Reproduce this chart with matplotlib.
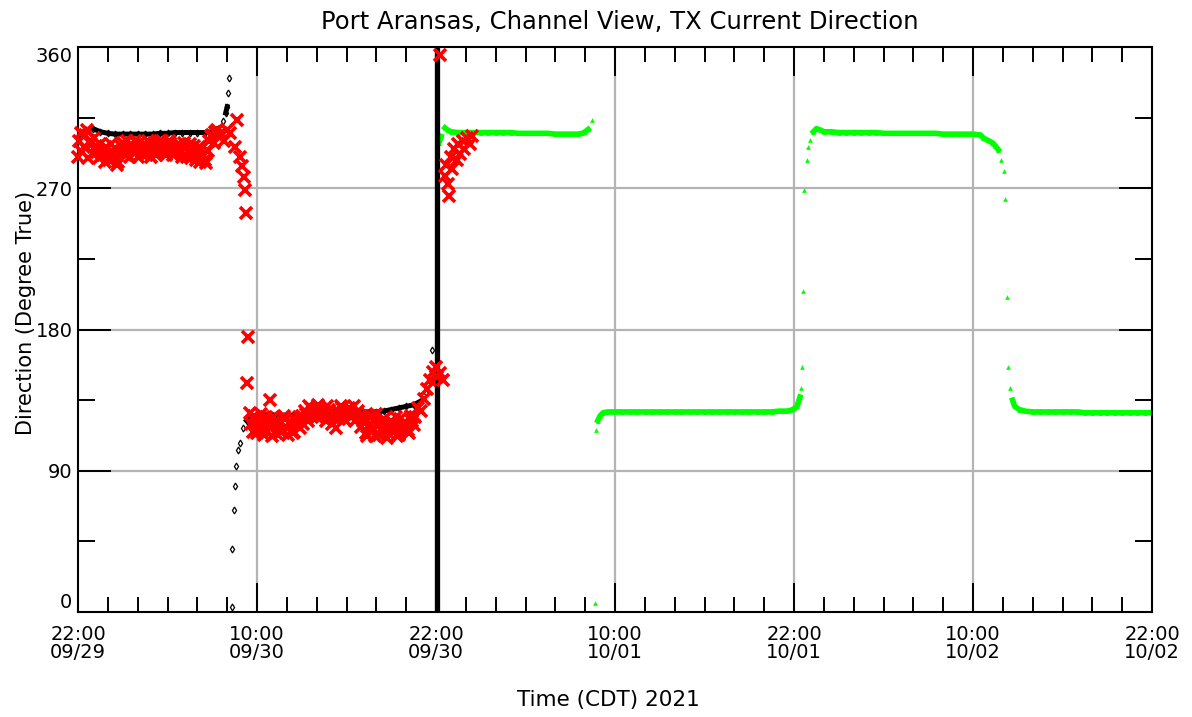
import matplotlib
matplotlib.use("Agg")
import matplotlib.pyplot as plt
import numpy as np
from matplotlib.ticker import FixedLocator, MultipleLocator


# hours after 22:00 09/29 (CDT), direction in degrees true
TICK_HOURS = [0, 12, 24, 36, 48, 60, 72]
TICK_LABELS = ["22:00\n09/29", "10:00\n09/30", "22:00\n09/30", "10:00\n10/01",
               "22:00\n10/01", "10:00\n10/02", "22:00\n10/02"]
Y_TICKS = [0, 90, 180, 270, 360]

# black series (observed, one bin)
BLACK_HOURS = [0.0, 0.5, 1.0, 1.5, 2.0, 2.5, 3.0, 3.5, 4.0, 4.5, 5.0, 5.5, 6.0, 6.5,
               7.0, 7.5, 8.0, 8.5, 9.0, 9.4, 9.7, 9.9, 10.0, 10.05, 10.1,
               10.3, 10.35, 10.45, 10.5, 10.6, 10.75, 10.85, 11.05, 11.3,
               11.5, 12.0, 12.5, 13.0, 13.5, 14.0, 14.5, 15.0, 15.5, 16.0, 16.5,
               17.0, 17.5, 18.0, 18.5, 19.0, 19.5, 20.0, 20.5, 21.0, 21.5, 22.0,
               22.5, 22.9, 23.3, 23.5, 23.7]
BLACK_DIR = [303, 307, 308, 306, 305, 304.5, 304.5, 304.5, 304.5, 304.5, 304.5, 305,
             305, 305.5, 305.5, 305.5, 305.5, 305.5, 306, 308, 313, 318, 322, 331, 340,
             3, 40, 65, 80, 93, 103, 108, 117, 122,
             124, 125, 125.5, 125.5, 125.5, 125.5, 125.5, 125.5, 126, 127.5, 127.5,
             127.5, 127.5, 127.5, 127.5, 127.5, 127.5, 127.5, 128, 129, 130, 131,
             132, 134, 139.5, 148, 167]
SPIKE_HOUR = 24.05
SPIKE_RANGE = (0, 360)

# red series (observed, second bin) - scattered crosses
RED_HOURS_A = [0.0, 0.2, 0.4, 0.6, 0.8, 1.0, 1.2, 1.4, 1.6, 1.8, 2.0, 2.2, 2.4, 2.6,
               2.8, 3.0, 3.2, 3.4, 3.6, 3.8, 4.0, 4.2, 4.4, 4.6, 4.8, 5.0, 5.2, 5.4,
               5.6, 5.8, 6.0, 6.2, 6.4, 6.6, 6.8, 7.0, 7.2, 7.4, 7.6, 7.8, 8.0, 8.2,
               8.4, 8.6, 8.8, 9.0, 9.2, 9.4, 9.6, 9.8, 10.0]
RED_DIR_A = [290, 305, 296, 307, 300, 292, 297, 289, 294, 287, 292, 298, 290, 285,
             293, 299, 291, 297, 294, 300, 290, 296, 298, 292, 299, 295, 291, 297,
             300, 293, 296, 299, 291, 295, 298, 290, 296, 294, 289, 297, 292, 287,
             291, 286, 300, 304, 306, 303, 305, 300, 307]
# second pass of samples between the ones above (0.1, 0.3, ... 9.3 h)
RED_DIR_A2 = [300, 293, 304, 289, 298, 302, 293, 298, 291, 296,
              288, 294, 290, 287, 297, 293, 300, 290, 297, 293,
              299, 292, 295, 300, 290, 298, 294, 300, 296, 291,
              300, 295, 292, 297, 294, 299, 290, 298, 293, 288,
              296, 290, 288, 294, 303, 299, 307]
RED_HOURS_B = [10.2, 10.5, 10.63, 10.85, 11.0, 11.1, 11.2, 11.25, 11.3, 11.4]
RED_DIR_B = [305, 296, 313.6, 290, 284, 277, 269, 254, 146, 175]
RED_HOURS_C = [11.5, 11.7, 11.9, 12.1, 12.3, 12.5, 12.7, 12.9, 13.1, 13.3, 13.5, 13.7,
               13.9, 14.1, 14.3, 14.5, 14.7, 14.9, 12.9,
               15.1, 15.3, 15.5, 15.7, 15.9, 16.1, 16.3, 16.5, 16.7, 16.9, 17.1, 17.3,
               17.5, 17.7, 17.9, 18.1, 18.3, 18.5, 18.7, 18.9,
               19.1, 19.3, 19.5, 19.7, 19.9, 20.1, 20.3, 20.5, 20.7, 20.9, 21.1, 21.3,
               21.5, 21.7, 21.9, 22.1, 22.3, 22.5,
               22.6, 22.8, 23.0, 23.2, 23.4, 23.6, 23.8, 24.0, 24.1, 24.3, 24.5]
RED_DIR_C = [127, 115, 122, 118, 126, 113, 121, 117, 124, 114, 120, 116,
             123, 113, 119, 115, 122, 117, 135,
             120, 126, 131, 124, 129, 132, 125, 128, 131, 124, 127, 117,
             123, 130, 126, 129, 124, 131, 127, 125,
             122, 114, 118, 125, 112, 119, 116, 123, 111, 120, 115, 124,
             113, 118, 121, 116, 125, 119,
             124, 130, 128, 136, 142, 148, 153, 156, 150, 152, 148]
# second pass (11.6, 11.8, ... 22.4 h)
RED_DIR_C2 = [120, 125, 114, 121, 116, 124, 118, 112, 122, 119, 115, 125, 117, 121,
              114, 120, 124,
              125, 128, 122, 130, 127, 124, 130, 126, 122, 129, 120, 125, 128, 131,
              123, 127, 130, 126, 122, 128,
              118, 124, 112, 120, 117, 126, 113, 121, 118, 114, 122, 119, 112, 123,
              117, 120, 114, 122]
RED_HOURS_D = [24.3, 24.6, 24.7, 24.8, 24.9, 25.0, 25.1, 25.2, 25.4, 25.5, 25.6, 25.8,
               25.9, 26.1, 26.3, 26.4]
RED_DIR_D = [355, 278, 285, 273, 265, 290, 282, 295, 288, 298, 292, 300,
             295, 302, 298, 303]

# green series (forecast)
GREEN_HOURS = [24.1, 24.2, 24.35, 24.6, 24.8, 25.0, 25.5, 26.0, 26.5, 27.0, 27.5, 28.0,
               28.5, 29.0, 29.5, 30.0, 30.5, 31.0, 31.5, 32.0, 32.5, 33.0, 33.5, 33.8,
               34.0, 34.2, 34.45,
               34.65, 34.7, 34.85, 35.0, 35.2, 35.5, 36.0, 36.5, 37.0, 37.5, 38.0, 38.5,
               39.0, 39.5, 40.0, 40.5, 41.0, 41.5, 42.0, 42.5, 43.0, 43.5, 44.0, 44.5,
               45.0, 45.5, 46.0, 46.5, 47.0, 47.5, 47.8, 48.0, 48.2, 48.3, 48.4, 48.5,
               48.55, 48.6, 48.7, 48.85, 48.95, 49.1, 49.3, 49.5, 49.8,
               50.0, 50.5, 51.0, 51.5, 52.0, 52.5, 53.0, 53.5, 54.0, 54.5, 55.0, 55.5,
               56.0, 56.5, 57.0, 57.5, 58.0, 58.5, 59.0, 59.5, 60.0, 60.5, 60.7, 61.0,
               61.3, 61.5, 61.7, 61.9, 62.1, 62.15, 62.3, 62.35, 62.5, 62.65, 62.8, 63.1,
               63.5, 64.0, 64.5, 65.0, 65.5, 66.0, 66.5, 67.0, 67.5, 68.0, 68.5, 69.0,
               69.5, 70.0, 70.5, 71.0, 71.5, 72.0]
GREEN_DIR = [292.5, 299, 303, 308.5, 307, 306, 305.5, 305.5, 305.5, 305.5, 305.5, 305.5,
             305.5, 305.5, 305, 305, 305, 305, 305, 304.5, 304.5, 304.5, 304.5, 305,
             306, 307.5, 313.5,
             6, 116, 122, 125, 127, 127.5, 127.5, 127.5, 127.5, 127.5, 127.5, 127.5,
             127.5, 127.5, 127.5, 127.5, 127.5, 127.5, 127.5, 127.5, 127.5, 127.5, 127.5,
             127.5, 127.5, 127.5, 127.5, 127.5, 128, 128, 128.5, 129.5, 131, 134, 137,
             143, 156, 204.5, 269, 288, 296, 301, 306, 308, 307,
             306, 306, 305.5, 305.5, 305.5, 305.5, 305.5, 305.5, 305, 305, 305, 305,
             305, 305, 305, 305, 304.5, 304.5, 304.5, 304.5, 304.5, 304, 302, 300.5,
             299, 297, 294.5, 288, 281, 263, 201, 156, 143, 135, 131, 129,
             128, 127.5, 127.5, 127.5, 127.5, 127.5, 127.5, 127.5, 127, 127, 127, 127,
             127, 127, 127, 127, 127, 127]


def _break_jumps(hours, values, max_step=4.5, max_gap=0.6):
    # insert NaN so the connecting line only joins neighbouring samples
    h = np.asarray(hours, dtype=float)
    v = np.asarray(values, dtype=float)
    cut = (np.abs(np.diff(v)) > max_step) | (np.diff(h) > max_gap)
    idx = np.where(cut)[0] + 1
    return np.insert(h, idx, np.nan), np.insert(v, idx, np.nan)


def main():
    fig = plt.figure(figsize=(11.92, 7.17), dpi=100)
    ax = fig.add_axes([78 / 1192, 105 / 717, 1074 / 1192, 565 / 717])
    font = "DejaVu Sans"

    ax.set_xlim(0, 72)
    ax.set_ylim(0, 360)

    grid_color = "#b4b4b4"
    for h in TICK_HOURS[1:-1]:
        ax.axvline(h, color=grid_color, lw=1.6, zorder=0)
    for d in Y_TICKS[1:-1]:
        ax.axhline(d, color=grid_color, lw=1.6, zorder=0)

    # black: markers first so the line hides them on the flat parts
    ax.plot(BLACK_HOURS, BLACK_DIR, ls="none", marker="d", ms=3.5, mfc="white",
            mec="black", mew=0.9, zorder=3)
    bh, bv = _break_jumps(BLACK_HOURS, BLACK_DIR)
    ax.plot(bh, bv, color="black", lw=3.6, zorder=3)
    ax.vlines(SPIKE_HOUR, *SPIKE_RANGE, color="black", lw=3.8, zorder=3)

    # red crosses
    red_a2_hours = 0.1 + 0.2 * np.arange(len(RED_DIR_A2))
    red_c2_hours = 11.6 + 0.2 * np.arange(len(RED_DIR_C2))
    for hrs, dirs in [(RED_HOURS_A, RED_DIR_A), (red_a2_hours, RED_DIR_A2),
                      (RED_HOURS_B, RED_DIR_B), (RED_HOURS_C, RED_DIR_C),
                      (red_c2_hours, RED_DIR_C2), (RED_HOURS_D, RED_DIR_D)]:
        ax.plot(hrs, dirs, ls="none", marker="x", ms=8, mew=2.6, color="#ff0000",
                zorder=4, clip_on=False)

    # green
    gh, gv = _break_jumps(GREEN_HOURS, GREEN_DIR)
    ax.plot(gh, gv, color="#00ff00", lw=4.0, zorder=2)
    ax.plot(GREEN_HOURS, GREEN_DIR, ls="none", marker="^", ms=3.4, color="#00ff00",
            mew=0, zorder=2)

    ax.xaxis.set_major_locator(FixedLocator(TICK_HOURS))
    ax.xaxis.set_minor_locator(MultipleLocator(2))
    ax.set_xticklabels(TICK_LABELS, fontsize=14, family=font, linespacing=0.95)
    ax.yaxis.set_major_locator(FixedLocator(Y_TICKS))
    ax.yaxis.set_minor_locator(MultipleLocator(45))
    ylabels = ax.set_yticklabels([str(d) for d in Y_TICKS], fontsize=14, family=font)
    # end labels sit inside the frame, as in the original plot
    ylabels[0].set_va("bottom")
    ylabels[-1].set_va("top")

    ax.tick_params(axis="x", which="major", direction="in", length=21, width=1.4,
                   top=True, pad=9)
    ax.tick_params(axis="x", which="minor", direction="in", length=10.5, width=1.4,
                   top=True)
    ax.tick_params(axis="y", which="major", direction="in", length=24, width=1.4,
                   right=True, pad=4)
    ax.tick_params(axis="y", which="minor", direction="in", length=12.5, width=1.4,
                   right=True)
    for sp in ax.spines.values():
        sp.set_linewidth(1.5)

    fig.text(620 / 1192, 1 - 22 / 717, "Port Aransas, Channel View, TX Current Direction",
             ha="center", va="center", fontsize=17.5, family=font)
    fig.text(26 / 1192, 1 - 313 / 717, "Direction (Degree True)", rotation=90,
             ha="center", va="center", fontsize=15, family=font)
    fig.text(608 / 1192, 1 - 700 / 717, "Time (CDT) 2021", ha="center", va="center",
             fontsize=15.5, family=font)

    fig.savefig("out.png", dpi=100)
    plt.close(fig)


if __name__ == "__main__":
    main()
